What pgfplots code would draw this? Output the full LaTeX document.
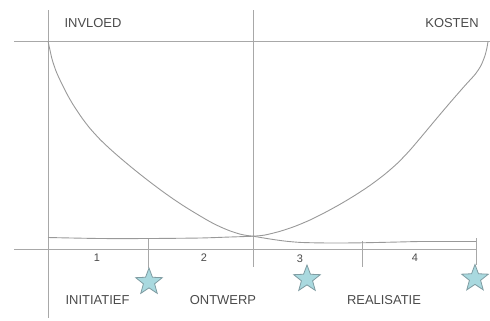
\documentclass[border=0pt]{standalone}
\usepackage{fontspec}
\setmainfont{Liberation Sans}
\usepackage{pgfplots}
\pgfplotsset{compat=1.18}
\definecolor{ln}{HTML}{A8A8A8}
\definecolor{cv}{HTML}{999999}
\definecolor{tx}{HTML}{4A4A4A}
\definecolor{starfill}{HTML}{A9D9DF}
\definecolor{stardraw}{HTML}{7F9CA2}
\pgfdeclareplotmark{fstar}{%
  \pgfpathmoveto{\pgfpointpolar{90}{\pgfplotmarksize}}%
  \pgfpathlineto{\pgfpointpolar{126}{0.42\pgfplotmarksize}}%
  \pgfpathlineto{\pgfpointpolar{162}{\pgfplotmarksize}}%
  \pgfpathlineto{\pgfpointpolar{198}{0.42\pgfplotmarksize}}%
  \pgfpathlineto{\pgfpointpolar{234}{\pgfplotmarksize}}%
  \pgfpathlineto{\pgfpointpolar{270}{0.42\pgfplotmarksize}}%
  \pgfpathlineto{\pgfpointpolar{306}{\pgfplotmarksize}}%
  \pgfpathlineto{\pgfpointpolar{342}{0.42\pgfplotmarksize}}%
  \pgfpathlineto{\pgfpointpolar{18}{\pgfplotmarksize}}%
  \pgfpathlineto{\pgfpointpolar{54}{0.42\pgfplotmarksize}}%
  \pgfpathclose
  \pgfusepathqfillstroke}
\begin{document}
\begin{tikzpicture}
\begin{axis}[scale only axis, width=490bp, height=320bp,
  xmin=0, xmax=490, ymin=0, ymax=320, y dir=reverse,
  hide axis, clip=false]
% frame lines
\addplot[ln, line width=1bp] coordinates {(14,41) (490,41)};
\addplot[ln, line width=1bp] coordinates {(14,249) (476,249)};
\addplot[ln, line width=1bp] coordinates {(48,10) (48,318)};
\addplot[ln, line width=1bp] coordinates {(253,10) (253,267)};
\addplot[ln, line width=1bp] coordinates {(148,238) (148,268)};
\addplot[ln, line width=1bp] coordinates {(362,241) (362,267)};
\addplot[ln, line width=1bp] coordinates {(476,238) (476,265)};
% influence curve
\addplot[cv, line width=0.9bp, smooth, tension=0.4] coordinates {
(48,41) (52,59) (56,71) (60,80) (67,94) (73,104.5) (82,118) (90,128.4)
(100,139.4) (110,148.9) (120,157.7) (130,166.1) (140,174.2) (150,182)
(162,191) (174,199.5) (186,207.4) (198,214.7) (210,221.7) (220,226.7)
(230,230.9) (240,234.1) (247,235.5) (253,236.2) (262,237.7) (272,239.3)
(285,241.1) (300,242.4) (320,242.9) (340,243) (360,242.8) (390,242.2)
(420,241.5) (450,241.5) (476,241.5)};
% cost curve
\addplot[cv, line width=0.9bp, smooth, tension=0.4] coordinates {
(48,237.5) (100,238.5) (150,238.5) (200,238) (230,237) (253,236.2) (265,235)
(280,231.3) (295,226.3) (310,220) (325,212.5) (340,204.3) (355,195.3)
(370,185.4) (385,174.1) (398,162.7) (410,150.1) (422,136) (435,120.4)
(450,102.7) (465,85.5) (475,74.5) (481,65.5) (485,55.5) (487,47.5) (488,41.5)};
% stars
\addplot[only marks, mark=fstar, mark size=14bp,
  mark options={fill=starfill, draw=stardraw, line width=0.8bp}]
  coordinates {(149,282) (307,279) (475,278.5)};
% texts
\begin{scope}[every node/.style={text=tx, inner sep=0pt, font=\fontsize{13}{15}\selectfont}]
\node at (axis cs:93,23) {INVLOED};
\node at (axis cs:452,23) {KOSTEN};
\node at (axis cs:97.5,300) {INITIATIEF};
\node at (axis cs:223,300) {ONTWERP};
\node at (axis cs:384,300) {REALISATIE};
\end{scope}
\begin{scope}[every node/.style={text=tx, inner sep=0pt, font=\fontsize{11}{13}\selectfont}]
\node at (axis cs:97,258) {1};
\node at (axis cs:204,258) {2};
\node at (axis cs:300,259) {3};
\node at (axis cs:415,258) {4};
\end{scope}
\end{axis}
\pgfresetboundingbox
\path[use as bounding box] (current axis.south west) rectangle (current axis.north east);
\end{tikzpicture}
\end{document}
